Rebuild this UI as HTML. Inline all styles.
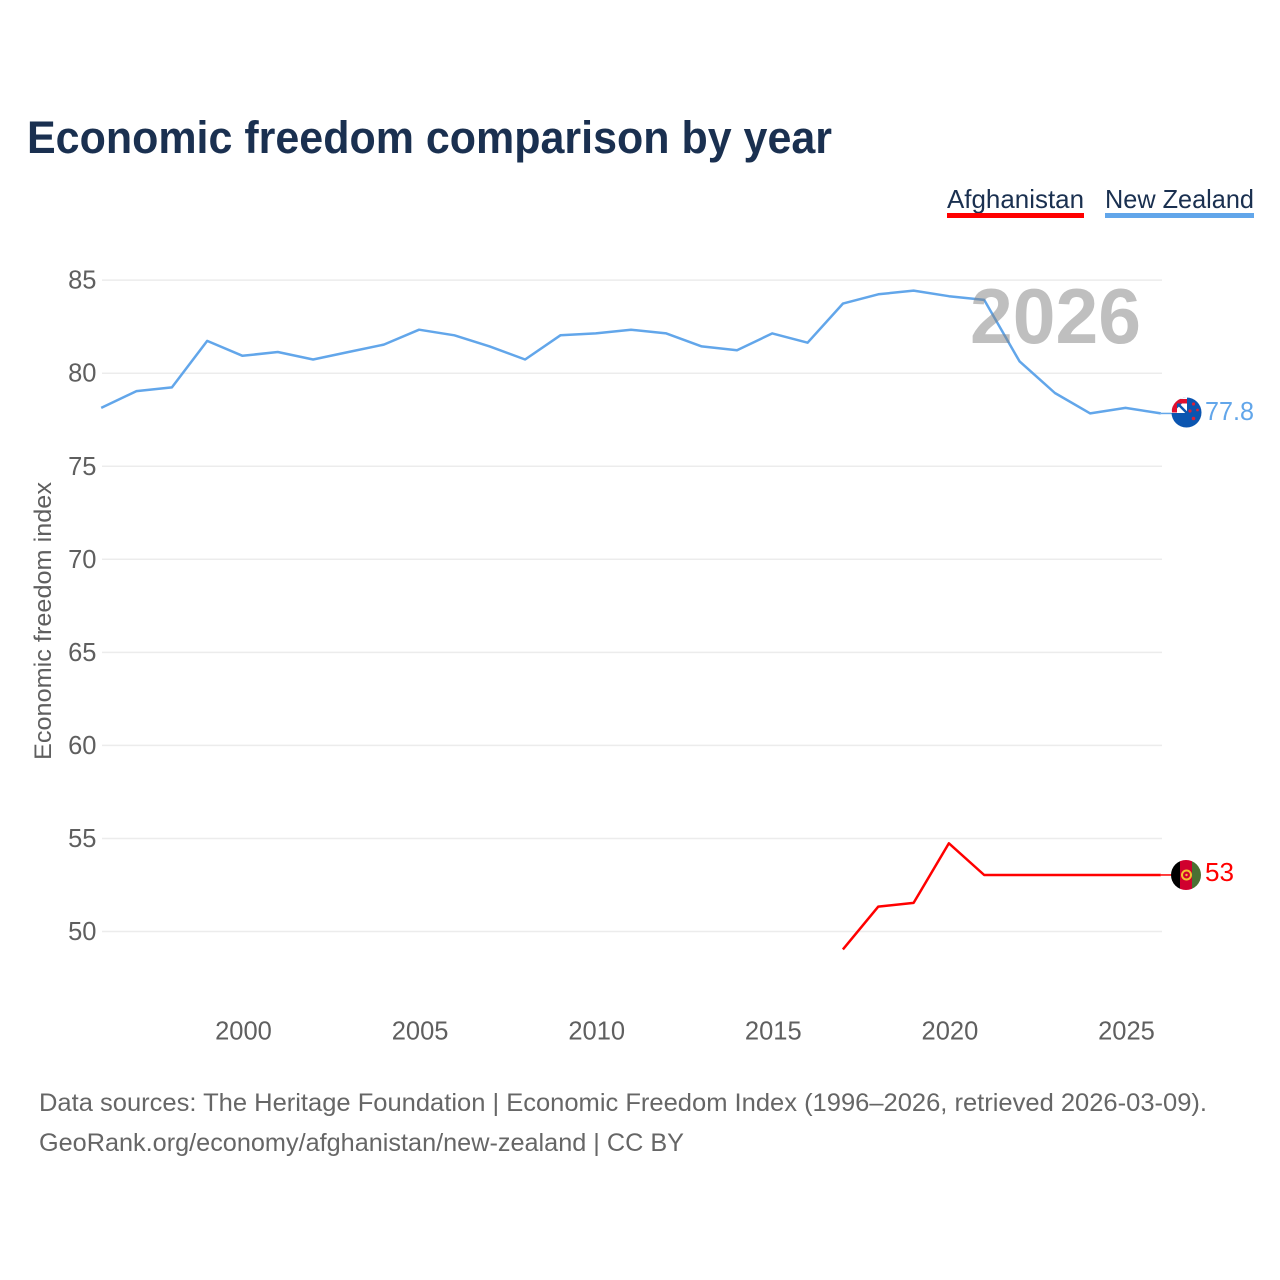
<!DOCTYPE html>
<html lang="en">
<head>
<meta charset="utf-8">
<title>Economic freedom comparison by year</title>
<style>
html,body{margin:0;padding:0;background:#fff;width:1280px;height:1280px;overflow:hidden}
svg{display:block}
text{font-family:"Liberation Sans",sans-serif}
.tick{font-size:25.500px;fill:#5f5f5f}
.foot{font-size:25px;fill:#666}
</style>
</head>
<body>
<svg id="chart" width="1280" height="1280" viewBox="0 0 1280 1280" xmlns="http://www.w3.org/2000/svg">
  <defs>
    <clipPath id="nz-clip"><circle cx="1186.500" cy="412.500" r="15"/></clipPath>
    <clipPath id="af-clip"><circle cx="1186" cy="875" r="15"/></clipPath>
  </defs>
  <text x="27" y="153" font-size="45" font-weight="700" fill="#1a3050" textLength="805" lengthAdjust="spacingAndGlyphs">Economic freedom comparison by year</text>

  <g>
    <text x="947" y="208" font-size="26" fill="#1a3050" textLength="137" lengthAdjust="spacingAndGlyphs">Afghanistan</text>
    <rect x="947" y="213" width="137" height="5" fill="#ff0000"/>
  </g>
  <g>
    <text x="1105" y="208" font-size="26" fill="#1a3050" textLength="149" lengthAdjust="spacingAndGlyphs">New Zealand</text>
    <rect x="1105" y="213" width="149" height="5" fill="#62a6ea"/>
  </g>

  <text transform="translate(51,621) rotate(-90)" text-anchor="middle" font-size="24" fill="#5f5f5f" textLength="278" lengthAdjust="spacingAndGlyphs">Economic freedom index</text>

  <g id="grid"></g>
  <g id="yticks"></g>
  <g id="xticks"></g>
  <g id="series"></g>

  <text x="970" y="343" font-size="78" font-weight="700" fill="#808080" fill-opacity="0.5" textLength="171" lengthAdjust="spacingAndGlyphs">2026</text>

  <g clip-path="url(#nz-clip)">
    <rect x="1171" y="397" width="31" height="31" fill="#0b55b0"/>
    <rect x="1171" y="397" width="16" height="16" fill="#fff"/>
    <path d="M1172 399h15v4.500h-10v9h-5z" fill="#e0102f"/>
    <path d="M1178 404l9 9" stroke="#0b55b0" stroke-width="2.500"/>
    <path d="M1177 403.500h5l-5 5z" fill="#0b55b0"/>
    <circle cx="1193.500" cy="404" r="1.600" fill="#d8213a"/>
    <circle cx="1190" cy="411" r="1.600" fill="#d8213a"/>
    <circle cx="1197.500" cy="410" r="1.400" fill="#d8213a"/>
    <circle cx="1193.500" cy="418.500" r="1.800" fill="#d8213a"/>
  </g>
  <text id="nz-value" x="1205" y="420" font-size="26" fill="#62a6ea" textLength="49" lengthAdjust="spacingAndGlyphs"></text>

  <g clip-path="url(#af-clip)">
    <rect x="1171" y="860" width="9" height="30" fill="#000"/>
    <rect x="1180" y="860" width="12" height="30" fill="#d0002e"/>
    <rect x="1192" y="860" width="9" height="30" fill="#4b7033"/>
    <circle cx="1186.500" cy="875" r="4.500" fill="none" stroke="#f2c230" stroke-width="2"/>
    <circle cx="1186.500" cy="875" r="1.200" fill="#f2c230"/>
  </g>
  <text id="af-value" x="1205" y="881" font-size="26" fill="#ff0000" textLength="29" lengthAdjust="spacingAndGlyphs"></text>

  <text class="foot" x="39" y="1111" textLength="1168" lengthAdjust="spacingAndGlyphs">Data sources: The Heritage Foundation | Economic Freedom Index (1996–2026, retrieved 2026-03-09).</text>
  <text class="foot" x="39" y="1151" textLength="645" lengthAdjust="spacingAndGlyphs">GeoRank.org/economy/afghanistan/new-zealand | CC BY</text>
</svg>
<script>
var years = [1996,1997,1998,1999,2000,2001,2002,2003,2004,2005,2006,2007,2008,2009,2010,2011,2012,2013,2014,2015,2016,2017,2018,2019,2020,2021,2022,2023,2024,2025,2026];
var newZealandValues = [78.1,79.0,79.2,81.7,80.9,81.1,80.7,81.1,81.5,82.3,82.0,81.4,80.7,82.0,82.1,82.3,82.1,81.4,81.2,82.1,81.6,83.7,84.2,84.4,84.1,83.9,80.6,78.9,77.8,78.1,77.8];
var afghanistanValues = [null,null,null,null,null,null,null,null,null,null,null,null,null,null,null,null,null,null,null,null,null,49.0,51.3,51.5,54.7,53.0,53.0,53.0,53.0,53.0,53.0];
var yTickValues = [50,55,60,65,70,75,80,85];
var xTickValues = [2000,2005,2010,2015,2020,2025];

var NS = 'http://www.w3.org/2000/svg';
function xScale(year) { return 242.5 + (year - 2000) * 35.32; }
function yScale(value) { return 931.5 - (value - 50) * 18.61; }
function lineY(value) { return yScale(value) - 0.7; }

function make(tag, attrs, parent) {
  var el = document.createElementNS(NS, tag);
  Object.keys(attrs).forEach(function (k) { el.setAttribute(k, attrs[k]); });
  parent.appendChild(el);
  return el;
}

var grid = document.getElementById('grid');
var yticks = document.getElementById('yticks');
var xticks = document.getElementById('xticks');
var series = document.getElementById('series');

yTickValues.forEach(function (v) {
  var line = make('line', {x1: 102, x2: 1162, y1: yScale(v), y2: yScale(v), stroke: '#ececec', 'stroke-width': 1.5}, grid);
  
  
  var label = make('text', {x: 96.5, y: yScale(v) + 8.5, 'text-anchor': 'end', 'class': 'tick'}, yticks);
  
  
  label.textContent = v;
});

xTickValues.forEach(function (v) {
  var label = make('text', {x: xScale(v) + 1, y: 1039.5, 'text-anchor': 'middle', 'class': 'tick'}, xticks);
  
  
  label.textContent = v;
});

function pointsFor(values) {
  var pts = [];
  values.forEach(function (v, i) {
    if (v !== null) pts.push(xScale(years[i]).toFixed(1) + ',' + lineY(v).toFixed(1));
  });
  return pts.join(' ');
}
function lastValue(values) {
  return values[values.length - 1];
}

var nzLine = make('polyline', {points: pointsFor(newZealandValues), fill: 'none', stroke: '#62a6ea', 'stroke-width': 2.5, 'stroke-linejoin': 'round'}, series);



var afLine = make('polyline', {points: pointsFor(afghanistanValues), fill: 'none', stroke: '#ff0000', 'stroke-width': 2.5, 'stroke-linejoin': 'round'}, series);



var endX = xScale(years[years.length - 1]);
var nzLink = make('line', {x1: endX, x2: 1172, y1: lineY(lastValue(newZealandValues)), y2: lineY(lastValue(newZealandValues)), stroke: '#62a6ea', 'stroke-width': 1.5}, series);


var afLink = make('line', {x1: endX, x2: 1172, y1: lineY(lastValue(afghanistanValues)), y2: lineY(lastValue(afghanistanValues)), stroke: '#ff0000', 'stroke-width': 1.5}, series);



document.getElementById('nz-value').textContent = lastValue(newZealandValues);
document.getElementById('af-value').textContent = lastValue(afghanistanValues);
</script>
</body>
</html>
